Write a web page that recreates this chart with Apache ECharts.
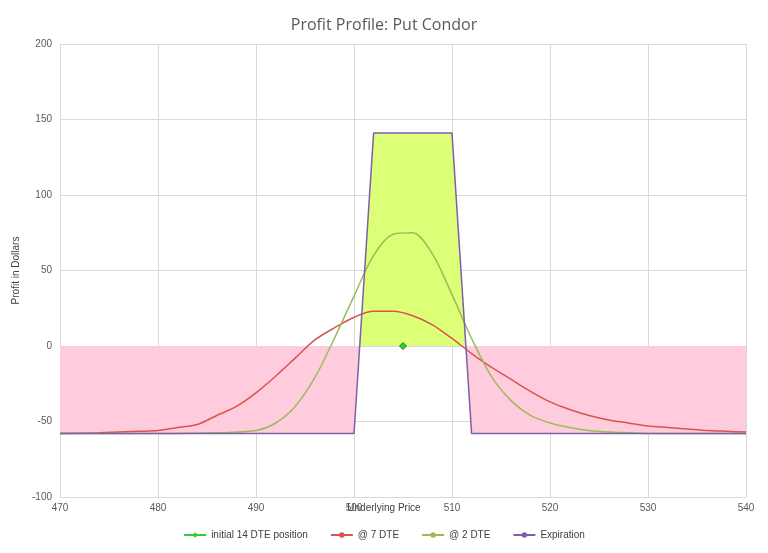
<!DOCTYPE html><html><head><meta charset="utf-8"><script src="https://cdn.jsdelivr.net/npm/echarts@6/dist/echarts.min.js"></script></head><body style="margin:0"><div id="c" style="width:768px;height:553px"></div><script>
const x7 = [470,474,478,480,482,484,486,488,490,492,494,496,498,500,502,504,506,508,510,512,514,516,518,520,522,524,526,528,530,532,534,536,538,540];
const y7 = [-58,-57.5,-56.5,-56,-54,-52,-46,-40,-31,-20,-8,4,12,19,23,23,20,14,5,-5,-14,-22,-30,-37,-42,-46,-49,-51,-53,-54,-55,-56,-56.5,-57];
const x2 = [470,480,486,490,492,494,496,498,500,502,504,506,508,510,512,514,516,518,520,522,524,526,528,530,540];
const y2 = [-58,-58,-57.5,-56,-51,-40,-21,5,33,60,74,75,61,34,5,-20,-36,-46,-51,-54,-56,-57,-57.5,-58,-58];
const xExp = [470,500,502,510,512,540];
const yExp = [-58,-58,141,141,-58,-58];
const xNeg = [470,500,500.58,511.42,512,540];
const yNeg = [-58,-58,0,0,-58,-58];
const xPos = [500.58,502,510,511.42];
const yPos = [0,141,141,0];
const initial = [[505,0]];
const z=(a,b)=>a.map((v,i)=>[v,b[i]]);
const ch=echarts.init(document.getElementById('c'));
ch.setOption({
 title:{text:'Profit Profile: Put Condor',left:'center',top:12,textStyle:{fontSize:16,fontWeight:'normal',color:'#595959',fontFamily:'Open Sans'}},
 grid:{left:60,right:22,top:44,bottom:56,containLabel:false,outerBoundsMode:'none'},
 graphic:[{type:'text',left:'center',top:503,style:{text:'Underlying Price',fontSize:10,fill:'#404040'}}],
 legend:{bottom:8,itemGap:22,itemWidth:22,itemHeight:7,textStyle:{fontSize:10,color:'#404040'},data:['initial 14 DTE position','@ 7 DTE','@ 2 DTE','Expiration']},
 xAxis:{type:'value',min:470,max:540,interval:10,
  axisLine:{onZero:true,lineStyle:{color:'#d9d9d9'}},axisTick:{show:false},
  axisLabel:{color:'#595959',fontSize:10,margin:6},splitLine:{lineStyle:{color:'#d9d9d9'}}},
 yAxis:{type:'value',min:-100,max:200,interval:50,name:'Profit in Dollars',nameLocation:'middle',nameGap:34,
  nameTextStyle:{fontSize:10,color:'#404040'},axisLine:{show:false},axisTick:{show:false},
  axisLabel:{color:'#595959',fontSize:10},splitLine:{lineStyle:{color:'#d9d9d9'}}},
 series:[
  {type:'line',data:z(xNeg,yNeg),symbol:'none',lineStyle:{width:0},areaStyle:{color:'#ffccdd',opacity:1},silent:true,z:1},
  {type:'line',data:z(xPos,yPos),symbol:'none',lineStyle:{width:0},areaStyle:{color:'#ddff77',opacity:1},silent:true,z:1},
  {name:'initial 14 DTE position',type:'line',data:initial,symbol:'diamond',symbolSize:7,itemStyle:{color:'#33cc33',borderColor:'#228822'},lineStyle:{color:'#33cc33'},z:5},
  {name:'@ 7 DTE',type:'line',data:z(x7,y7),smooth:0.3,symbol:'none',lineStyle:{color:'#d9534f',width:1.5},itemStyle:{color:'#d9534f'}},
  {name:'@ 2 DTE',type:'line',data:z(x2,y2),smooth:0.3,symbol:'none',lineStyle:{color:'#9bbb59',width:1.5},itemStyle:{color:'#9bbb59'}},
  {name:'Expiration',type:'line',data:z(xExp,yExp),symbol:'none',lineStyle:{color:'#7e5fa8',width:1.5},itemStyle:{color:'#7e5fa8'}}
 ]
});
</script></body></html>
